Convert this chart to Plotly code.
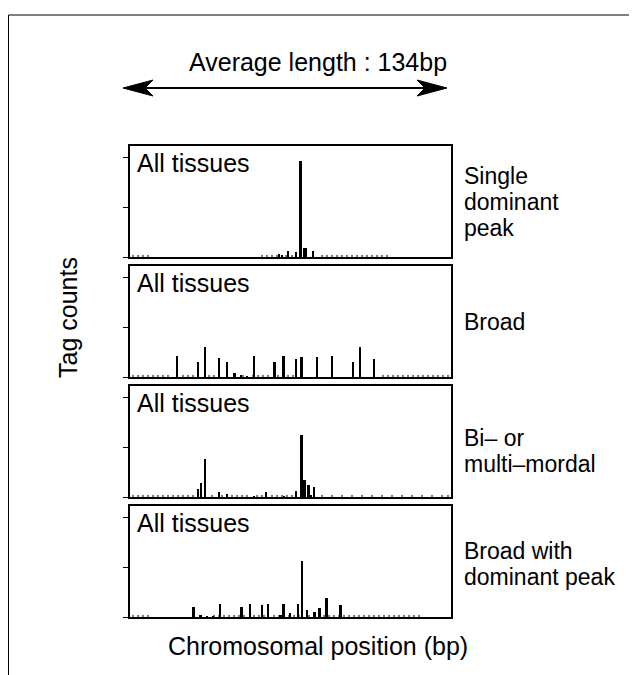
import plotly.graph_objects as go

W, H = 637, 675
OFF = 8  # default page margin of the html body
FONT = "Liberation Sans, Arial, Helvetica, sans-serif"

# ---------------- data ----------------
panel_titles = ["All tissues", "All tissues", "All tissues", "All tissues"]
panel_labels = [["Single", "dominant", "peak"], ["Broad"], ["Bi\u2013 or", "multi\u2013mordal"],
                ["Broad with", "dominant peak"]]

p1_pos = [74.75, 76.25, 79, 83, 85.35, 87.25, 88.25, 91.5]
p1_cnt = [0.6, 0.4, 1.3, 1.1, 19.3, 1.8, 1.8, 1.3]

p2_pos = [23.65, 34, 37.65, 44.5, 48.65, 52.35, 55.65, 58.5, 62, 72.35, 76.85, 83, 85.85,
          93.65, 101.15, 111.65, 115.15, 122.15]
p2_cnt = [4.2, 3.1, 6.1, 3.8, 3.1, 0.8, 0.35, 0.2, 4.2, 3.1, 4.2, 3.7, 4.1, 4.0, 4.2, 3.1, 6.0, 3.7]

p3_pos = [34, 35.65, 37.65, 44.5, 48.65, 62, 68.15, 77, 83, 85.85, 86.85, 87.65, 89.35, 90.35, 92]
p3_cnt = [1.7, 2.9, 7.7, 1.1, 0.7, 0.2, 1.0, 0.2, 1.2, 12.4, 3.4, 3.4, 2.5, 0.5, 2.0]

p4_pos = [31.85, 35.35, 38.5, 41.65, 45.15, 55.85, 60, 66, 69, 75.35, 76.85, 80, 84.15, 86.15,
          88.5, 92.35, 94.85, 98.35, 105.35]
p4_cnt = [2.0, 0.4, 0.2, 0.2, 2.7, 2.0, 2.7, 2.5, 2.6, 0.4, 2.6, 0.9, 2.7, 11.2, 1.4, 1.0, 1.9,
          3.9, 2.4]

# positions of zero-count tags (tiny marks on the baseline)
p1_zero = [1.5, 4, 6.5, 9, 66, 68.5, 71, 73.5, 78, 81, 96, 98.5, 101, 103.5, 106, 108.5, 111,
           113.5, 116, 118.5, 121, 123.5, 126, 128.5]
p2_zero = [1.5, 4, 6.5, 9, 11.5, 14, 16.5, 19, 26.5, 29, 31.5, 39.5, 42, 56.5, 61.5, 64, 66.5,
           69, 74, 79, 81.5, 126.5, 129, 131.5, 134, 136.5, 139, 141.5, 144, 146.5, 149, 151.5,
           154, 156.5, 159]
p3_zero = [1.5, 4, 6.5, 9, 11.5, 14, 16.5, 19, 21.5, 24, 26.5, 29, 31.5, 41, 46, 51, 53.5, 56,
           58.5, 63.5, 66, 71, 73.5, 76, 78.5, 81, 96, 101, 106, 111, 116, 121, 126, 131, 136,
           141, 146, 151, 156, 159]
p4_zero = [1.5, 4, 6.5, 9, 42, 44.5, 47, 49.5, 52, 54.5, 57, 62, 64.5, 67, 72, 74.5, 77, 79.5,
           82, 84.5, 89.5, 92, 97, 99.5, 102, 104.5, 107, 109.5, 112, 114.5, 117, 119.5, 122,
           124.5, 127, 129.5, 132, 134.5, 137, 139.5, 142, 144.5]

positions = [p1_pos, p2_pos, p3_pos, p4_pos]
counts = [p1_cnt, p2_cnt, p3_cnt, p4_cnt]
zeros = [p1_zero, p2_zero, p3_zero, p4_zero]

y_ticks = [0, 10, 20]
x_range = [0, 160.5]
y_range = [0, 22.2]

title_text = "Average length : 134bp"
x_title = "Chromosomal position (bp)"
y_title = "Tag counts"

# ---------------- layout helpers (window pixel -> paper) ----------------
FW, FH = W - OFF, H - OFF

def px(x):
    return (x - OFF) / FW

def py(y):
    return 1 - (y - OFF) / FH

panel_left, panel_right = 130, 451
panel_tops = [146, 266, 386, 506]
panel_h = 111
label_shift = [0, 0, 9, 2]
TS = 25
LS = 23
SP = 26

fig = go.Figure()
layout = dict(width=FW, height=FH, margin=dict(l=0, r=0, t=0, b=0),
              paper_bgcolor="white", plot_bgcolor="white", showlegend=False,
              font=dict(family=FONT, color="black"), bargap=0)

annotations = []
shapes = []
for i in range(4):
    n = "" if i == 0 else str(i + 1)
    xa, ya = "x" + n, "y" + n
    top = panel_tops[i]
    layout["xaxis" + n] = dict(domain=[px(panel_left), px(panel_right)], range=x_range,
                               showticklabels=False, ticks="", showgrid=False, zeroline=False,
                               showline=True, mirror=True, linecolor="black", linewidth=1.5,
                               anchor=ya, fixedrange=True)
    layout["yaxis" + n] = dict(domain=[py(top + panel_h), py(top)], range=y_range,
                               tickvals=y_ticks, showticklabels=False, ticks="outside",
                               ticklen=5, tickwidth=1, tickcolor="black",
                               showgrid=False, zeroline=False, showline=True, mirror=True,
                               linecolor="black", linewidth=1.5, anchor=xa, fixedrange=True)
    fig.add_trace(go.Bar(x=positions[i], y=counts[i], width=0.9, marker_color="black",
                         marker_line_width=0, xaxis=xa, yaxis=ya))
    fig.add_trace(go.Scatter(x=zeros[i], y=[0] * len(zeros[i]), mode="markers",
                             marker=dict(symbol="line-ns-open", size=3, color="black",
                                         line=dict(color="black", width=1)),
                             cliponaxis=False, xaxis=xa, yaxis=ya))
    annotations.append(dict(text=panel_titles[i], xref="paper", yref="paper",
                            x=px(panel_left + 5), y=py(top + 17), xanchor="left",
                            yanchor="middle", showarrow=False, font=dict(size=TS)))
    lines = panel_labels[i]
    mid = top + panel_h / 2 + label_shift[i]
    for k, t in enumerate(lines):
        yy = mid + (k - (len(lines) - 1) / 2) * SP
        annotations.append(dict(text=t, xref="paper", yref="paper", x=px(463), y=py(yy),
                                xanchor="left", yanchor="middle", showarrow=False,
                                borderpad=0, font=dict(size=LS)))

annotations.append(dict(text=title_text, xref="paper", yref="paper", x=px(318), y=py(62),
                        xanchor="center", yanchor="middle", showarrow=False,
                        font=dict(size=TS)))
annotations.append(dict(text=x_title, xref="paper", yref="paper", x=px(318), y=py(646),
                        xanchor="center", yanchor="middle", showarrow=False,
                        font=dict(size=TS)))
annotations.append(dict(text=y_title, xref="paper", yref="paper", x=px(68), y=py(318),
                        xanchor="center", yanchor="middle", showarrow=False, textangle=-90,
                        font=dict(size=TS)))

# outer frame (top and left edges visible)
shapes.append(dict(type="line", xref="paper", yref="paper", x0=px(8.5), x1=1.0, y0=py(15),
                   y1=py(15), line=dict(color="black", width=1)))
shapes.append(dict(type="line", xref="paper", yref="paper", x0=px(8.5), x1=px(8.5), y0=py(15),
                   y1=0, line=dict(color="black", width=1)))

# double-headed arrow
ay = 88
ax0, ax1 = 123, 447
shapes.append(dict(type="line", xref="paper", yref="paper", x0=px(ax0 + 15), x1=px(ax1 - 15),
                   y0=py(ay), y1=py(ay), line=dict(color="black", width=2)))

def head(tip, direction):
    d = direction
    pts = [(tip, ay), (tip + d * 30, ay - 8), (tip + d * 22, ay), (tip + d * 30, ay + 8)]
    path = "M " + " L ".join(f"{px(a)},{py(b)}" for a, b in pts) + " Z"
    return dict(type="path", xref="paper", yref="paper", path=path,
                fillcolor="black", line=dict(color="black", width=1))

shapes.append(head(ax0, 1))
shapes.append(head(ax1, -1))

layout["annotations"] = annotations
layout["shapes"] = shapes
fig.update_layout(**layout)
fig.write_html("out.html")
